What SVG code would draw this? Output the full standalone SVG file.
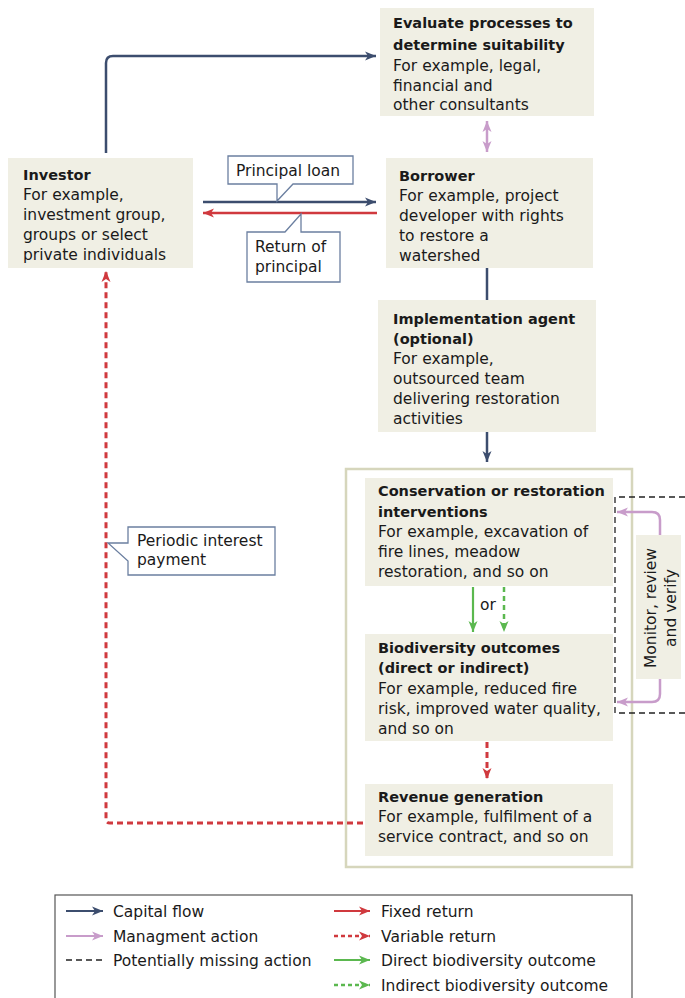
<svg xmlns="http://www.w3.org/2000/svg" width="685" height="998" viewBox="0 0 685 998">
<defs>
<style>
text{font-family:"DejaVu Sans","Liberation Sans",sans-serif;font-size:15.5px;fill:#1a1a1a}
.b{font-weight:bold;font-size:14.5px}
.box{fill:#f0efe4}
.call{fill:#fff;stroke:#6b7fa0;stroke-width:1.3}
.cap{fill:none;stroke:#3c4d6e;stroke-width:2.5}
.fix{fill:none;stroke:#d0393e;stroke-width:2.5}
.var{fill:none;stroke:#d0393e;stroke-width:3;stroke-dasharray:6 4}
.mgmt{fill:none;stroke:#c89cca;stroke-width:2.5}
.dir{fill:none;stroke:#5bb84f;stroke-width:2.2}
.ind{fill:none;stroke:#5bb84f;stroke-width:2.5;stroke-dasharray:5 4}
.miss{fill:none;stroke:#222;stroke-width:1.3;stroke-dasharray:6 4}
</style>
<marker id="aCap" markerUnits="userSpaceOnUse" markerWidth="12" markerHeight="10" refX="11" refY="5" orient="auto"><path d="M0,0.5 L11,5 L0,9.5 L3,5 Z" fill="#3c4d6e"/></marker>
<marker id="aFix" markerUnits="userSpaceOnUse" markerWidth="12" markerHeight="10" refX="11" refY="5" orient="auto"><path d="M0,0.5 L11,5 L0,9.5 L3,5 Z" fill="#d0393e"/></marker>
<marker id="aVar" markerUnits="userSpaceOnUse" markerWidth="12" markerHeight="10" refX="11" refY="5" orient="auto"><path d="M0,0.5 L11,5 L0,9.5 L3,5 Z" fill="#d0393e"/></marker>
<marker id="aMgmt" markerUnits="userSpaceOnUse" markerWidth="12" markerHeight="10" refX="11" refY="5" orient="auto-start-reverse"><path d="M0,0.5 L11,5 L0,9.5 L3,5 Z" fill="#c89cca"/></marker>
<marker id="aGrn" markerUnits="userSpaceOnUse" markerWidth="12" markerHeight="10" refX="11" refY="5" orient="auto"><path d="M0,0.5 L11,5 L0,9.5 L3,5 Z" fill="#5bb84f"/></marker>
</defs>
<rect width="685" height="998" fill="#fff"/>

<g id="container"><rect x="346" y="469" width="286" height="398" fill="none" stroke="#d6d6bc" stroke-width="2.5"/></g>

<g id="evaluate">
<rect class="box" x="380" y="8" width="214" height="108"/>
<text x="393" y="28" class="b">Evaluate processes to</text>
<text x="393" y="50" class="b">determine suitability</text>
<text x="393" y="71">For example, legal,</text>
<text x="393" y="91">financial and</text>
<text x="393" y="110">other consultants</text>
</g>

<g id="investor">
<rect class="box" x="8" y="158" width="185" height="110"/>
<text x="23" y="180" class="b">Investor</text>
<text x="23" y="200">For example,</text>
<text x="23" y="220">investment group,</text>
<text x="23" y="240">groups or select</text>
<text x="23" y="260">private individuals</text>
</g>

<g id="borrower">
<rect class="box" x="386" y="158" width="207" height="110"/>
<text x="399" y="181" class="b">Borrower</text>
<text x="399" y="201">For example, project</text>
<text x="399" y="221">developer with rights</text>
<text x="399" y="241">to restore a</text>
<text x="399" y="261">watershed</text>
</g>

<g id="implementation">
<rect class="box" x="378" y="300" width="218" height="132"/>
<text x="393" y="324" class="b">Implementation agent</text>
<text x="393" y="344" class="b">(optional)</text>
<text x="393" y="364">For example,</text>
<text x="393" y="384">outsourced team</text>
<text x="393" y="404">delivering restoration</text>
<text x="393" y="424">activities</text>
</g>

<g id="conservation">
<rect class="box" x="365" y="478" width="248" height="108"/>
<text x="378" y="496" class="b">Conservation or restoration</text>
<text x="378" y="517" class="b">interventions</text>
<text x="378" y="537">For example, excavation of</text>
<text x="378" y="557">fire lines, meadow</text>
<text x="378" y="577">restoration, and so on</text>
</g>

<g id="biodiversity">
<rect class="box" x="365" y="634" width="248" height="107"/>
<text x="378" y="653" class="b">Biodiversity outcomes</text>
<text x="378" y="673" class="b">(direct or indirect)</text>
<text x="378" y="694">For example, reduced fire</text>
<text x="378" y="714">risk, improved water quality,</text>
<text x="378" y="734">and so on</text>
</g>

<g id="revenue">
<rect class="box" x="365" y="784" width="248" height="72"/>
<text x="378" y="802" class="b">Revenue generation</text>
<text x="378" y="822">For example, fulfilment of a</text>
<text x="378" y="842">service contract, and so on</text>
</g>

<g id="monitor">
<rect class="box" x="636" y="535" width="45" height="144"/>
<text transform="translate(656,608) rotate(-90)" text-anchor="middle">Monitor, review</text>
<text transform="translate(676,608) rotate(-90)" text-anchor="middle">and verify</text>
</g>

<g id="connectors">
<path class="cap" d="M106,153 V63 Q106,56 113,56 H376" marker-end="url(#aCap)"/>
<path class="cap" d="M203,202 H376" marker-end="url(#aCap)"/>
<path class="fix" d="M377,213 H203" marker-end="url(#aFix)"/>
<path class="mgmt" d="M487,121 V152" marker-start="url(#aMgmt)" marker-end="url(#aMgmt)"/>
<path class="cap" d="M487,268 V300"/>
<path class="cap" d="M487,432 V462" marker-end="url(#aCap)"/>
<path class="dir" d="M473,587 V632" marker-end="url(#aGrn)"/>
<path class="ind" d="M504,587 V632" marker-end="url(#aGrn)"/>
<path class="var" d="M487,742 V779" marker-end="url(#aVar)"/>
<path class="var" d="M363,823 H110 Q106,823 106,819 V271" marker-end="url(#aVar)"/>
<path class="mgmt" d="M660,535 V520 Q660,512 652,512 H617" marker-end="url(#aMgmt)"/>
<path class="mgmt" d="M660,679 V694 Q660,702 652,702 H617" marker-end="url(#aMgmt)"/>
<path class="miss" d="M685,497 H615 V713 H685"/>
</g>

<g id="label-principal-loan">
<path class="call" d="M228,156 H353 V184 H293 L277,201 V184 H228 Z"/>
<text x="236" y="176">Principal loan</text>
</g>
<g id="label-return">
<path class="call" d="M247,232 H285 L301,214 V232 H340 V282 H247 Z"/>
<text x="255" y="252">Return of</text>
<text x="255" y="272">principal</text>
</g>
<g id="label-interest">
<path class="call" d="M128,527 H275 V575 H128 V561 L108,543 H128 Z"/>
<text x="137" y="546">Periodic interest</text>
<text x="137" y="565">payment</text>
</g>
<text x="480" y="610">or</text>

<g id="legend">
<rect x="55" y="895" width="577" height="110" fill="none" stroke="#555" stroke-width="1.2"/>
<path class="cap" style="stroke-width:2" d="M66,911 H103" marker-end="url(#aCap)"/>
<text x="113" y="917">Capital flow</text>
<path class="mgmt" style="stroke-width:2.2" d="M66,936 H103" marker-end="url(#aMgmt)"/>
<text x="113" y="942">Managment action</text>
<path class="miss" d="M66,960 H103"/>
<text x="113" y="966">Potentially missing action</text>
<path class="fix" style="stroke-width:2" d="M334,911 H370" marker-end="url(#aFix)"/>
<text x="381" y="917">Fixed return</text>
<path class="var" style="stroke-width:2.5;stroke-dasharray:4 3" d="M334,936 H370" marker-end="url(#aVar)"/>
<text x="381" y="942">Variable return</text>
<path class="dir" d="M334,960 H370" marker-end="url(#aGrn)"/>
<text x="381" y="966">Direct biodiversity outcome</text>
<path class="ind" style="stroke-dasharray:4 3" d="M334,985 H370" marker-end="url(#aGrn)"/>
<text x="381" y="991">Indirect biodiversity outcome</text>
</g>
</svg>
